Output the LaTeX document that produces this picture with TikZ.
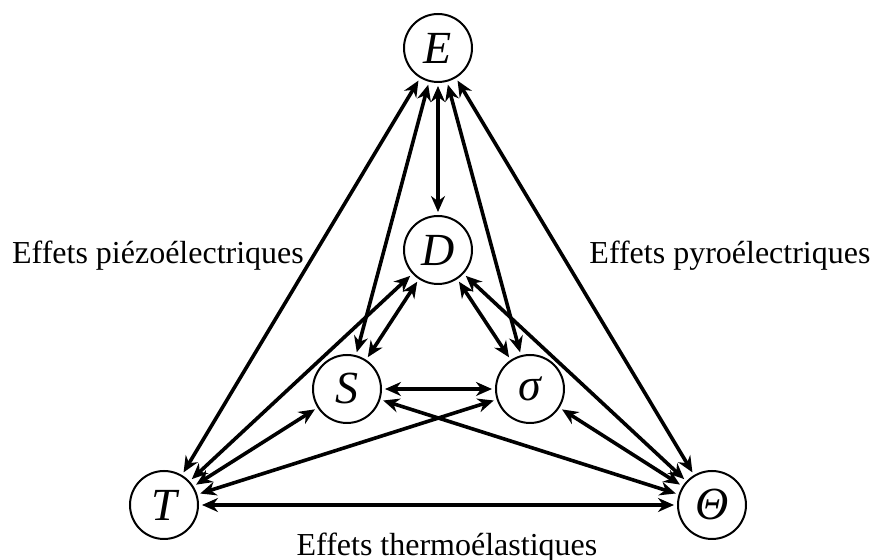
\documentclass[tikz,border=0pt]{standalone}
\usepackage{fontspec}
\setmainfont{Liberation Serif}
\usetikzlibrary{arrows.meta}
\tikzstyle{state} = [circle, draw, line width=1pt, minimum size=34pt, inner sep=0pt, font=\fontsize{23}{23}\selectfont\itshape]
\tikzstyle{link} = [line width=1.8pt, {Stealth[length=8pt,width=7pt]}-{Stealth[length=8pt,width=7pt]}, shorten >=1.5pt, shorten <=1.5pt]
\tikzstyle{effect} = [font=\fontsize{16}{19}\selectfont]

\begin{document}
\begin{tikzpicture}[x=0.5pt,y=-0.5pt]
\useasboundingbox (0,0) rectangle (875,560);
\node[state] (E) at (438,48) {E};
\node[state] (D) at (438,250) {D};
\node[state] (S) at (347,389) {S};
\node[state] (sig) at (530,389) {σ};
\node[state] (T) at (164,505) {T};
\node[state] (Th) at (712,505) {Θ};

\node[effect] (piezo) at (158,256) {Effets piézoélectriques};
\node[effect] (pyro) at (730,256) {Effets pyroélectriques};
\node[effect] (thermo) at (447,548) {Effets thermoélastiques};

% every pair of quantities is coupled
\foreach \a/\b in {E/D, E/S, E/sig, E/T, E/Th, D/S, D/sig, D/T, D/Th, S/sig, S/T, S/Th, sig/T, sig/Th, T/Th}
  \draw[link] (\a) -- (\b);
\end{tikzpicture}
\end{document}
